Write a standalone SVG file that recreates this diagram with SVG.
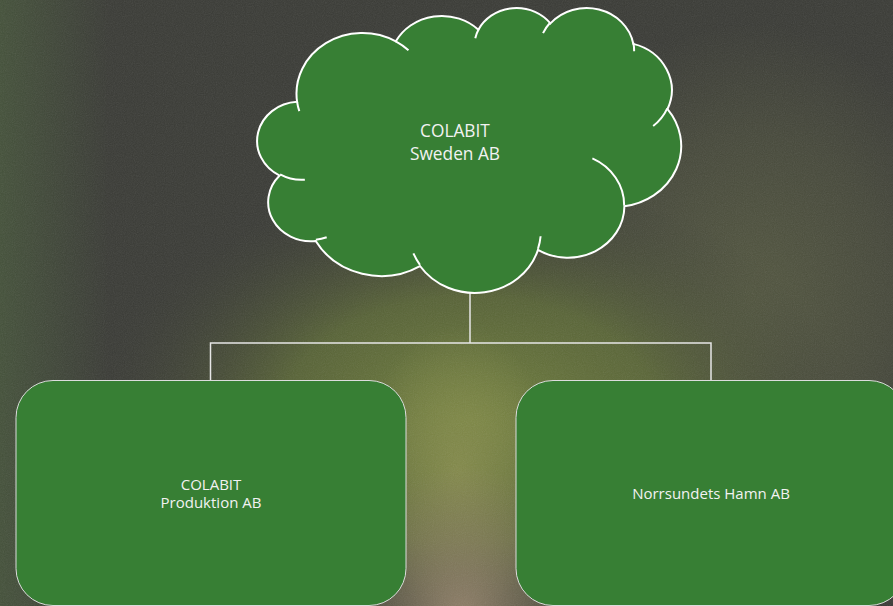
<svg xmlns="http://www.w3.org/2000/svg" width="893" height="606" viewBox="0 0 893 606">
  <defs>
    <linearGradient id="leftEdge" x1="0" y1="0" x2="110" y2="0" gradientUnits="userSpaceOnUse">
      <stop offset="0" stop-color="#44513a" stop-opacity="1"/>
      <stop offset="1" stop-color="#44513a" stop-opacity="0"/>
    </linearGradient>
    <radialGradient id="rightGlow" cx="750" cy="300" r="230" gradientUnits="userSpaceOnUse" gradientTransform="translate(750 300) scale(1 1.2) translate(-750 -300)">
      <stop offset="0" stop-color="#565a41" stop-opacity="0.9"/>
      <stop offset="0.6" stop-color="#565a41" stop-opacity="0.45"/>
      <stop offset="1" stop-color="#565a41" stop-opacity="0"/>
    </radialGradient>
    <radialGradient id="glow" cx="470" cy="420" r="330" gradientUnits="userSpaceOnUse" gradientTransform="translate(470 420) scale(1.15 0.75) translate(-470 -420)">
      <stop offset="0" stop-color="#73823e" stop-opacity="1"/>
      <stop offset="0.5" stop-color="#5f6d37" stop-opacity="0.8"/>
      <stop offset="1" stop-color="#3b3d35" stop-opacity="0"/>
    </radialGradient>
    <radialGradient id="core" cx="458" cy="470" r="120" gradientUnits="userSpaceOnUse" gradientTransform="translate(458 470) scale(0.8 1.2) translate(-458 -470)">
      <stop offset="0" stop-color="#868c4c" stop-opacity="0.9"/>
      <stop offset="1" stop-color="#868c4c" stop-opacity="0"/>
    </radialGradient>
    <radialGradient id="brown" cx="462" cy="615" r="150" gradientUnits="userSpaceOnUse" gradientTransform="translate(462 615) scale(0.8 1) translate(-462 -615)">
      <stop offset="0" stop-color="#8f7f68" stop-opacity="1"/>
      <stop offset="1" stop-color="#8f7f68" stop-opacity="0"/>
    </radialGradient>
    <filter id="noise" x="0" y="0" width="100%" height="100%">
      <feTurbulence type="fractalNoise" baseFrequency="0.9" numOctaves="2" seed="3" result="n"/>
      <feColorMatrix type="saturate" values="0"/>
      <feComponentTransfer>
        <feFuncA type="linear" slope="0.12"/>
      </feComponentTransfer>
    </filter>
    <style>
      .node { fill: #377f34; }
      .box { stroke: #dcdcdc; stroke-width: 1; }
      .cloud { stroke: #ffffff; stroke-width: 2; }
      .inner { fill: none; stroke: #ffffff; stroke-width: 2; }
      .conn { fill: none; stroke: #e6e6e6; stroke-width: 1.5; }
      .label { font-family: "Open Sans", "Noto Sans", "Liberation Sans", sans-serif; fill: #f2f2f2; text-anchor: middle; }
    </style>
  </defs>

  <rect width="893" height="606" fill="#3a3b36"/>
  <rect width="893" height="606" fill="url(#leftEdge)"/>
  <rect width="893" height="606" fill="url(#rightGlow)"/>
  <rect width="893" height="606" fill="url(#glow)"/>
  <rect width="893" height="606" fill="url(#core)"/>
  <rect width="893" height="606" fill="url(#brown)"/>
  <rect width="893" height="606" filter="url(#noise)"/>

  <g id="connectors">
    <path class="conn" d="M470,292 V343 M210.5,343 H711 M210.5,342.3 V380.5 M711,342.3 V380.5"/>
  </g>

  <g id="cloud-sweden">
    <path class="node cloud" d="M297.10,101.81 A65.97,60.60 0 0 1 395.81,41.35 A52.10,47.92 0 0 1 478.39,29.71 A42.64,39.20 0 0 1 550.45,23.44 A47.45,43.49 0 0 1 633.34,43.85 A52.10,47.96 0 0 1 667.53,109.04 A66.18,60.80 0 0 1 624.40,206.24 A56.51,51.88 0 0 1 537.97,249.84 A65.96,60.77 0 0 1 420.01,266.01 A75.41,69.53 0 0 1 315.72,240.99 A42.59,39.03 0 0 1 279.65,175.57 A42.44,39.20 0 0 1 297.10,101.81 Z"/>
    <path class="inner" d="M304.84,179.68 A42.44,39.20 0 0 1 280.10,174.42 M326.68,237.19 A42.59,39.03 0 0 1 315.85,239.71 M419.97,264.83 A65.96,60.77 0 0 1 413.44,253.35 M540.60,236.22 A65.96,60.77 0 0 1 537.99,248.81 M592.39,158.42 A56.51,51.88 0 0 1 624.15,205.48 M667.30,108.30 A52.10,47.96 0 0 1 653.16,125.95 M633.37,42.83 A47.45,43.49 0 0 1 634.12,51.17 M543.05,33.11 A47.45,43.49 0 0 1 550.30,22.48 M475.28,38.18 A42.64,39.20 0 0 1 478.79,29.01 M395.76,41.29 A65.97,60.60 0 0 1 408.49,50.21 M299.31,111.17 A65.97,60.60 0 0 1 297.10,101.81"/>
    <text class="label" font-size="17.3" x="455" y="137">COLABIT</text>
    <text class="label" font-size="17.3" x="455" y="159.5">Sweden AB</text>
  </g>

  <g id="box-produktion">
    <rect class="node box" x="16" y="380.5" width="390" height="225" rx="37" ry="37"/>
    <text class="label" font-size="15" x="211" y="490">COLABIT</text>
    <text class="label" font-size="15" x="211" y="508.3">Produktion AB</text>
  </g>

  <g id="box-norrsundet">
    <rect class="node box" x="516" y="380.5" width="390" height="225" rx="37" ry="37"/>
    <text class="label" font-size="15" x="711" y="499.3">Norrsundets Hamn AB</text>
  </g>
</svg>
